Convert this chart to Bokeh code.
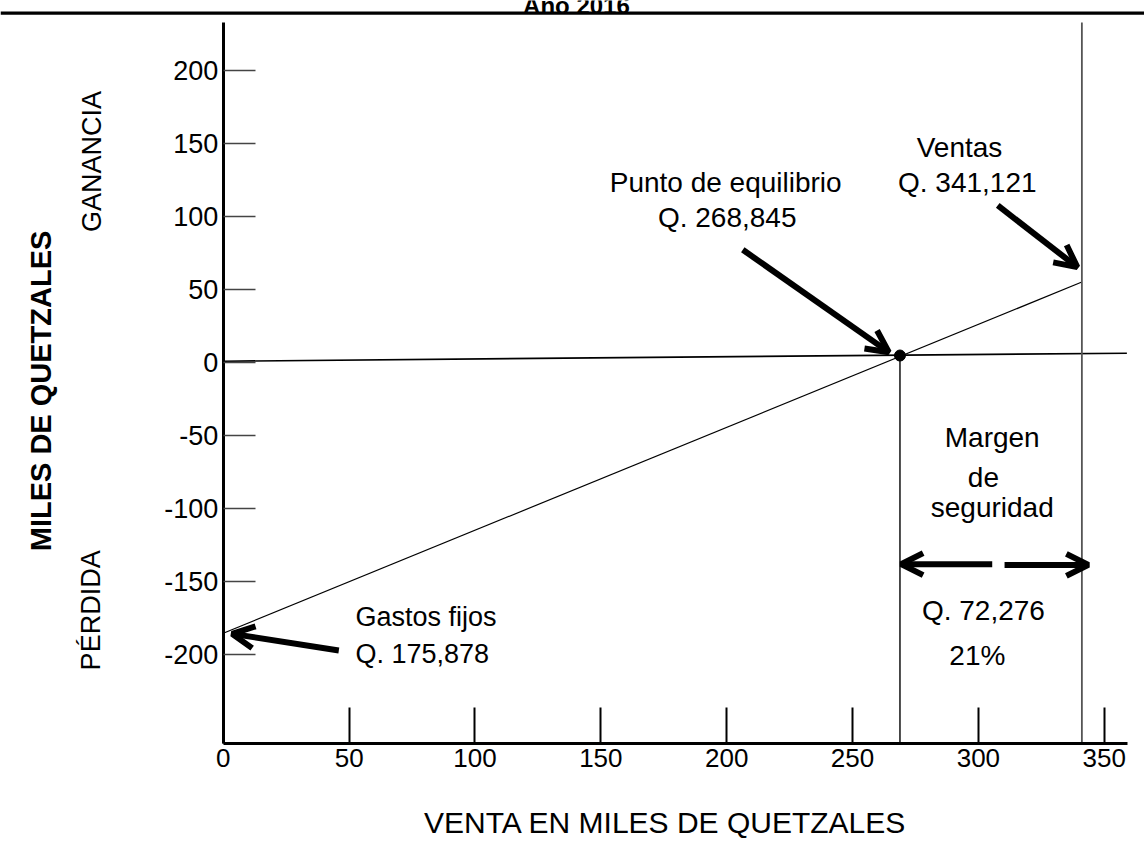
import math
from bokeh.plotting import figure
from bokeh.models import Range1d, LinearAxis, FixedTicker, Arrow, OpenHead
from bokeh.core.properties import value
from bokeh.embed import file_html
from bokeh.resources import INLINE

# ---- data (miles de quetzales) ----
x_ticks = [0, 50, 100, 150, 200, 250, 300, 350]
y_ticks = [-200, -150, -100, -50, 0, 50, 100, 150, 200]

breakeven_x = 268.845      # Punto de equilibrio
breakeven_y = 4.8
sales_x = 341.121          # Ventas
sales_y = 55.2
fixed_costs_y = -185.7     # Gastos fijos (intercept)

baseline_x = [0, 359]      # nearly horizontal reference line
baseline_y = [0.9, 6.4]

axis_x_max = 359.1
axis_y_min = -261.3
axis_y_max = 233.2

# plot window (data units)
x_lo, x_hi = -88.52, 366.0
y_lo, y_hi = -331.96, 248.3

# annotation arrows: (x_start, y_start, x_end, y_end)
arrow_x0 = [206.4, 307.7, 45.9, 305.5, 310.4]
arrow_y0 = [77.3, 107.7, -197.5, -138.3, -138.8]
arrow_x1 = [264.4, 339.3, 3.5, 269.3, 343.7]
arrow_y1 = [7.1, 65.4, -186.1, -138.3, -138.8]

# centred texts
c_text = ["Punto de equilibrio", "Q. 268,845", "Ventas", "Q. 341,121",
          "Margen", "de", "seguridad", "Q. 72,276", "21%"]
c_x = [199.6, 200.2, 292.5, 295.6, 305.5, 302.0, 305.5, 302.0, 299.6]
c_y = [123.7, 99.7, 147.5, 123.5, -51.2, -78.7, -99.2, -170.1, -201.0]

xlabel_text = ["VENTA EN MILES DE QUETZALES"]
xlabel_x = [175.7]
xlabel_y = [-315.5]

# left aligned texts
l_text = ["Gastos fijos", "Q. 175,878"]
l_x = [52.5, 52.5]
l_y = [-174.7, -199.6]

# rotated texts
r_text = ["GANANCIA", "PÉRDIDA"]
r_x = [-52.1, -52.4]
r_y = [137.9, -170.0]

ylabel_text = ["MILES DE QUETZALES"]
ylabel_x = [-72.6]
ylabel_y = [-19.5]

title_text = ["Año 2016"]
title_x = [140.3]
title_y = [244.9]
rule_y = 239.6

FONT = value("Liberation Sans")

p = figure(width=1144, height=846,
           x_range=Range1d(x_lo, x_hi), y_range=Range1d(y_lo, y_hi),
           output_backend="svg", toolbar_location=None,
           x_axis_location=None, y_axis_location=None,
           min_border=0, outline_line_color=None)
p.background_fill_color = "white"
p.border_fill_color = "white"
p.grid.visible = False

# axes
xaxis = LinearAxis(fixed_location=axis_y_min, ticker=FixedTicker(ticks=x_ticks),
                   bounds=(0, axis_x_max))
yaxis = LinearAxis(fixed_location=0, ticker=FixedTicker(ticks=y_ticks),
                   bounds=(axis_y_min, axis_y_max))
yaxis.major_label_overrides = {t: str(t) for t in y_ticks}
for ax, tin, tw, st, fs in [(xaxis, 36, 2, 6, "26px"), (yaxis, 32, 1.6, 5, "27px")]:
    ax.axis_line_width = 3
    ax.axis_line_color = "black"
    ax.major_tick_in = tin
    ax.major_tick_out = 0
    ax.major_tick_line_width = tw
    ax.major_tick_line_color = "black" if ax is xaxis else "#444444"
    ax.minor_tick_line_color = None
    ax.major_label_text_font = "Liberation Sans"
    ax.major_label_text_font_size = fs
    ax.major_label_text_color = "black"
    ax.major_label_standoff = st
p.add_layout(xaxis, "below")
p.add_layout(yaxis, "left")

# top rule
p.segment(x0=[x_lo], y0=[rule_y], x1=[x_hi], y1=[rule_y], line_color="black", line_width=3.3)

# lines
p.line(baseline_x, baseline_y, line_color="black", line_width=1.6)
p.line([0, sales_x], [fixed_costs_y, sales_y], line_color="black", line_width=1.2)
p.segment(x0=[breakeven_x], y0=[breakeven_y], x1=[breakeven_x], y1=[axis_y_min],
          line_color="black", line_width=1.4)
p.segment(x0=[sales_x], y0=[axis_y_max], x1=[sales_x], y1=[axis_y_min],
          line_color="#555555", line_width=1.8)
p.scatter([breakeven_x], [breakeven_y], size=11, color="black")

for xs, ys, xe, ye in zip(arrow_x0, arrow_y0, arrow_x1, arrow_y1):
    p.add_layout(Arrow(end=OpenHead(size=22, line_width=6, line_color="black"),
                       x_start=xs, y_start=ys, x_end=xe, y_end=ye,
                       line_width=6, line_color="black"))

# texts
p.text(c_x, c_y, text=c_text, text_font=FONT, text_font_size="28px",
       text_align="center", text_baseline="middle", text_color="black")
p.text(xlabel_x, xlabel_y, text=xlabel_text, text_font=FONT, text_font_size="30px",
       text_align="center", text_baseline="middle", text_color="black")
p.text(l_x, l_y, text=l_text, text_font=FONT, text_font_size="27px",
       text_align="left", text_baseline="middle", text_color="black")
p.text(r_x, r_y, text=r_text, angle=math.pi / 2, text_font=FONT, text_font_size="27px",
       text_align="center", text_baseline="middle", text_color="black")
p.text(ylabel_x, ylabel_y, text=ylabel_text, angle=math.pi / 2, text_font=FONT,
       text_font_size="29px", text_font_style="bold",
       text_align="center", text_baseline="middle", text_color="black")
p.text(title_x, title_y, text=title_text, text_font=FONT, text_font_size="24px",
       text_font_style="bold", text_align="center", text_baseline="alphabetic",
       text_color="black")

open("out.html", "w").write(file_html(p, INLINE))
